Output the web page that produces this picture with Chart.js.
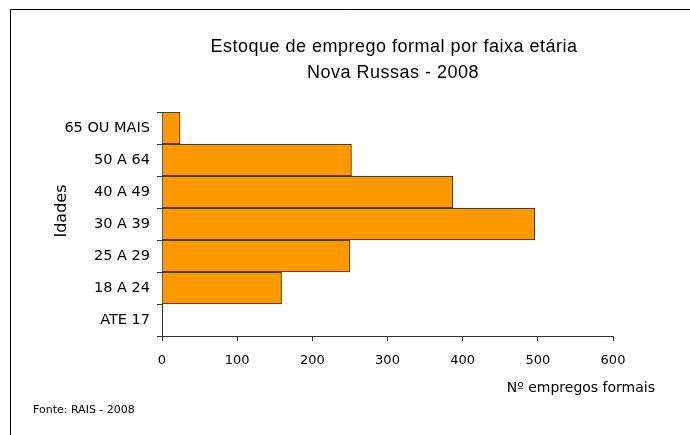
<!DOCTYPE html>
<html>
<head>
<meta charset="utf-8">
<script src="https://cdn.jsdelivr.net/npm/chart.js@4"></script>
<style>
  html, body { margin: 0; padding: 0; background: #fff; }
  canvas { display: block; }
</style>
</head>
<body>
<canvas id="ageChart" width="690" height="435"></canvas>
<script>
// faixas etárias, de cima para baixo
const faixas = ['65 OU MAIS', '50 A 64', '40 A 49', '30 A 39', '25 A 29', '18 A 24', 'ATE 17'];
const empregos = [24, 252, 387, 496, 250, 159, 0];
const eixoX = [0, 100, 200, 300, 400, 500, 600];

const tituloLinhas = ['Estoque de emprego formal por faixa etária', 'Nova Russas - 2008'];
const tituloY = 'Idades';
const tituloX = 'Nº empregos formais';
const fonte = 'Fonte: RAIS - 2008';

// moldura, títulos e nota de fonte
const extras = {
    id: 'extras',
    afterDraw(chart) {
        const c = chart.ctx;
        c.save();
        c.strokeStyle = '#000';
        c.lineWidth = 1;
        c.beginPath();
        c.moveTo(10.5, 435);
        c.lineTo(10.5, 9.5);
        c.lineTo(690, 9.5);
        c.stroke();

        c.fillStyle = '#000';
        c.textAlign = 'center';
        c.textBaseline = 'middle';
        c.font = '18px "Liberation Sans", Arial, sans-serif';
        if ('letterSpacing' in c) c.letterSpacing = '0.5px';
        c.fillText(tituloLinhas[0], 394, 47);
        c.fillText(tituloLinhas[1], 393, 73);
        if ('letterSpacing' in c) c.letterSpacing = '0px';

        c.font = '14px "DejaVu Sans", sans-serif';
        c.textAlign = 'right';
        c.fillText(tituloX, 655, 388);

        c.font = '11px "DejaVu Sans", sans-serif';
        c.textAlign = 'left';
        c.fillText(fonte, 33, 410);

        c.font = '16px "DejaVu Sans", sans-serif';
        c.translate(62, 211);
        c.rotate(-Math.PI / 2);
        c.textAlign = 'center';
        c.fillText(tituloY, 0, 0);
        c.restore();
    }
};

const ctx = document.getElementById('ageChart').getContext('2d');
const ageChart = new Chart(ctx, {
    type: 'bar',
    data: {
        labels: faixas,
        datasets: [{
            label: tituloX,
            data: empregos,
            backgroundColor: '#FF9900',
            borderColor: '#222',
            borderWidth: 1,
            barPercentage: 1,
            categoryPercentage: 1,
        }],
    },
    options: {
        indexAxis: 'y',
        responsive: false,
        animation: false,
        layout: { padding: { top: 112, right: 77, left: 0, bottom: 0 } },
        plugins: {
            legend: { display: false },
            title: { display: false },
            tooltip: { enabled: false },
        },
        scales: {
            x: {
                min: 0,
                max: 600,
                afterBuildTicks: (scale) => { scale.ticks = eixoX.map(v => ({ value: v })); },
                afterFit: (scale) => { scale.height = 99; },
                border: { color: '#333', width: 1 },
                grid: { drawOnChartArea: false, drawTicks: true, tickLength: 5, color: '#333' },
                ticks: { color: '#000', padding: 12, font: { family: 'DejaVu Sans', size: 13 } },
            },
            y: {
                afterFit: (scale) => { scale.width = 162; },
                border: { color: '#333', width: 1 },
                grid: { offset: true, drawOnChartArea: false, drawTicks: true, tickLength: 5, color: '#333' },
                ticks: { color: '#000', padding: 7, font: { family: 'DejaVu Sans', size: 14.5 } },
            },
        },
    },
    plugins: [extras],
});
</script>
</body>
</html>
